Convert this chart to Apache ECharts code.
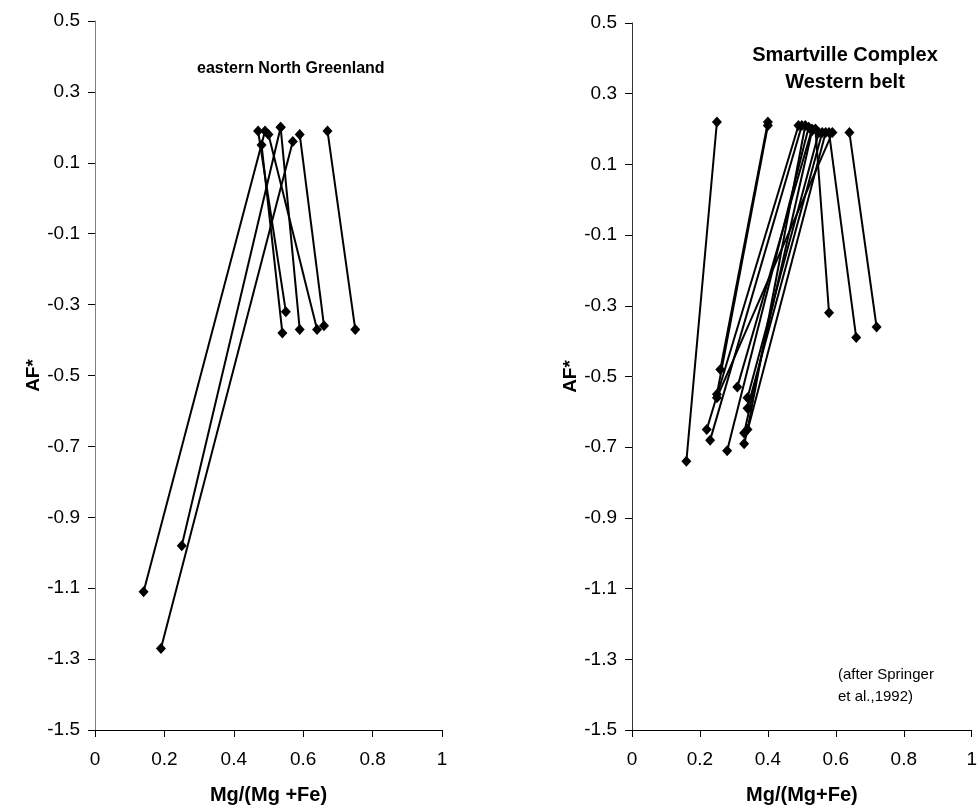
<!DOCTYPE html>
<html>
<head>
<meta charset="utf-8">
<script src="https://cdn.jsdelivr.net/npm/echarts@6/dist/echarts.min.js"></script>
<style>
  html, body { margin: 0; padding: 0; background: #fff; }
  #main { width: 980px; height: 810px; }
</style>
</head>
<body>
<div id="main"></div>
<script>
// eastern North Greenland: upper end and lower end of each tie line
var greenTop = [[0.47, 0.19], [0.48, 0.15], [0.50, 0.18], [0.535, 0.20], [0.59, 0.18],
                [0.67, 0.19], [0.49, 0.19], [0.535, 0.20], [0.57, 0.16]];
var greenBottom = [[0.55, -0.32], [0.54, -0.38], [0.64, -0.37], [0.59, -0.37], [0.66, -0.36],
                   [0.75, -0.37], [0.14, -1.11], [0.25, -0.98], [0.19, -1.27]];

// Smartville Complex, Western belt
var smartTop = [[0.25, 0.22], [0.40, 0.22], [0.40, 0.21], [0.64, 0.19], [0.58, 0.19],
                [0.54, 0.20], [0.49, 0.21], [0.50, 0.21], [0.59, 0.19], [0.52, 0.205],
                [0.53, 0.20], [0.53, 0.195], [0.55, 0.19], [0.56, 0.19], [0.57, 0.19], [0.51, 0.21]];
var smartBottom = [[0.16, -0.74], [0.26, -0.48], [0.25, -0.55], [0.72, -0.36], [0.66, -0.39],
                   [0.58, -0.32], [0.22, -0.65], [0.23, -0.68], [0.25, -0.56], [0.28, -0.71],
                   [0.31, -0.53], [0.33, -0.66], [0.34, -0.56], [0.34, -0.59], [0.33, -0.69], [0.34, -0.65]];

var xTicks = [0, 0.2, 0.4, 0.6, 0.8, 1];
var yTicks = [-1.5, -1.3, -1.1, -0.9, -0.7, -0.5, -0.3, -0.1, 0.1, 0.3, 0.5];

var font = '"Liberation Sans", Arial, sans-serif';

function makeX(idx) {
  return {
    gridIndex: idx, type: 'value', min: 0, max: 1, interval: 0.2,
    name: idx === 0 ? 'Mg/(Mg +Fe)' : 'Mg/(Mg+Fe)',
    nameLocation: 'middle', nameGap: 55,
    nameTextStyle: { fontFamily: font, fontWeight: 'bold', fontSize: 20, color: '#000' },
    axisLine: { onZero: false, lineStyle: { color: '#000', width: 1 } },
    axisTick: { show: true, length: 7, lineStyle: { color: '#000' } },
    axisLabel: { fontFamily: font, fontSize: 19, color: '#000', margin: 20 },
    splitLine: { show: false }
  };
}

function makeY(idx) {
  return {
    gridIndex: idx, type: 'value', min: -1.5, max: 0.5,
    name: 'AF*', nameLocation: 'middle', nameGap: 52,
    nameTextStyle: { fontFamily: font, fontWeight: 'bold', fontSize: 19, color: '#000' },
    axisLine: { show: true, onZero: false, lineStyle: { color: idx === 0 ? '#808080' : '#333', width: 1 } },
    axisTick: { show: true, length: 7, customValues: yTicks, lineStyle: { color: '#000' } },
    axisLabel: { fontFamily: font, fontSize: 19, color: '#000', margin: 15, customValues: yTicks,
                 formatter: function (v) { return String(Math.round(v * 10) / 10); } },
    splitLine: { show: false }
  };
}

var series = [];
function addPairs(tops, bottoms, idx) {
  for (var i = 0; i < tops.length; i++) {
    series.push({
      type: 'line', xAxisIndex: idx, yAxisIndex: idx,
      data: [tops[i], bottoms[i]],
      symbol: 'diamond', symbolSize: [10, 11],
      itemStyle: { color: '#000' },
      lineStyle: { color: '#000', width: 2 },
      animation: false, silent: true
    });
  }
}
addPairs(greenTop, greenBottom, 0);
addPairs(smartTop, smartBottom, 1);

var chart = echarts.init(document.getElementById('main'));
chart.setOption({
  backgroundColor: '#fff',
  animation: false,
  title: [
    { text: 'eastern North Greenland', left: 192, top: 56,
      textStyle: { fontFamily: font, fontWeight: 'bold', fontSize: 16, color: '#000' } },
    { text: 'Smartville Complex\nWestern belt', left: 840, top: 37, textAlign: 'center',
      textStyle: { fontFamily: font, fontWeight: 'bold', fontSize: 20, lineHeight: 27, color: '#000' } }
  ],
  grid: [
    { left: 95, top: 21, width: 347, height: 710 },
    { left: 632, top: 23, width: 343, height: 707 }
  ],
  xAxis: [makeX(0), makeX(1)],
  yAxis: [makeY(0), makeY(1)],
  graphic: [
    { type: 'text', left: 838, top: 664,
      style: { text: '(after Springer\net al.,1992)', font: '15px ' + font, fill: '#000', lineHeight: 22 } }
  ],
  series: series
});
</script>
</body>
</html>
